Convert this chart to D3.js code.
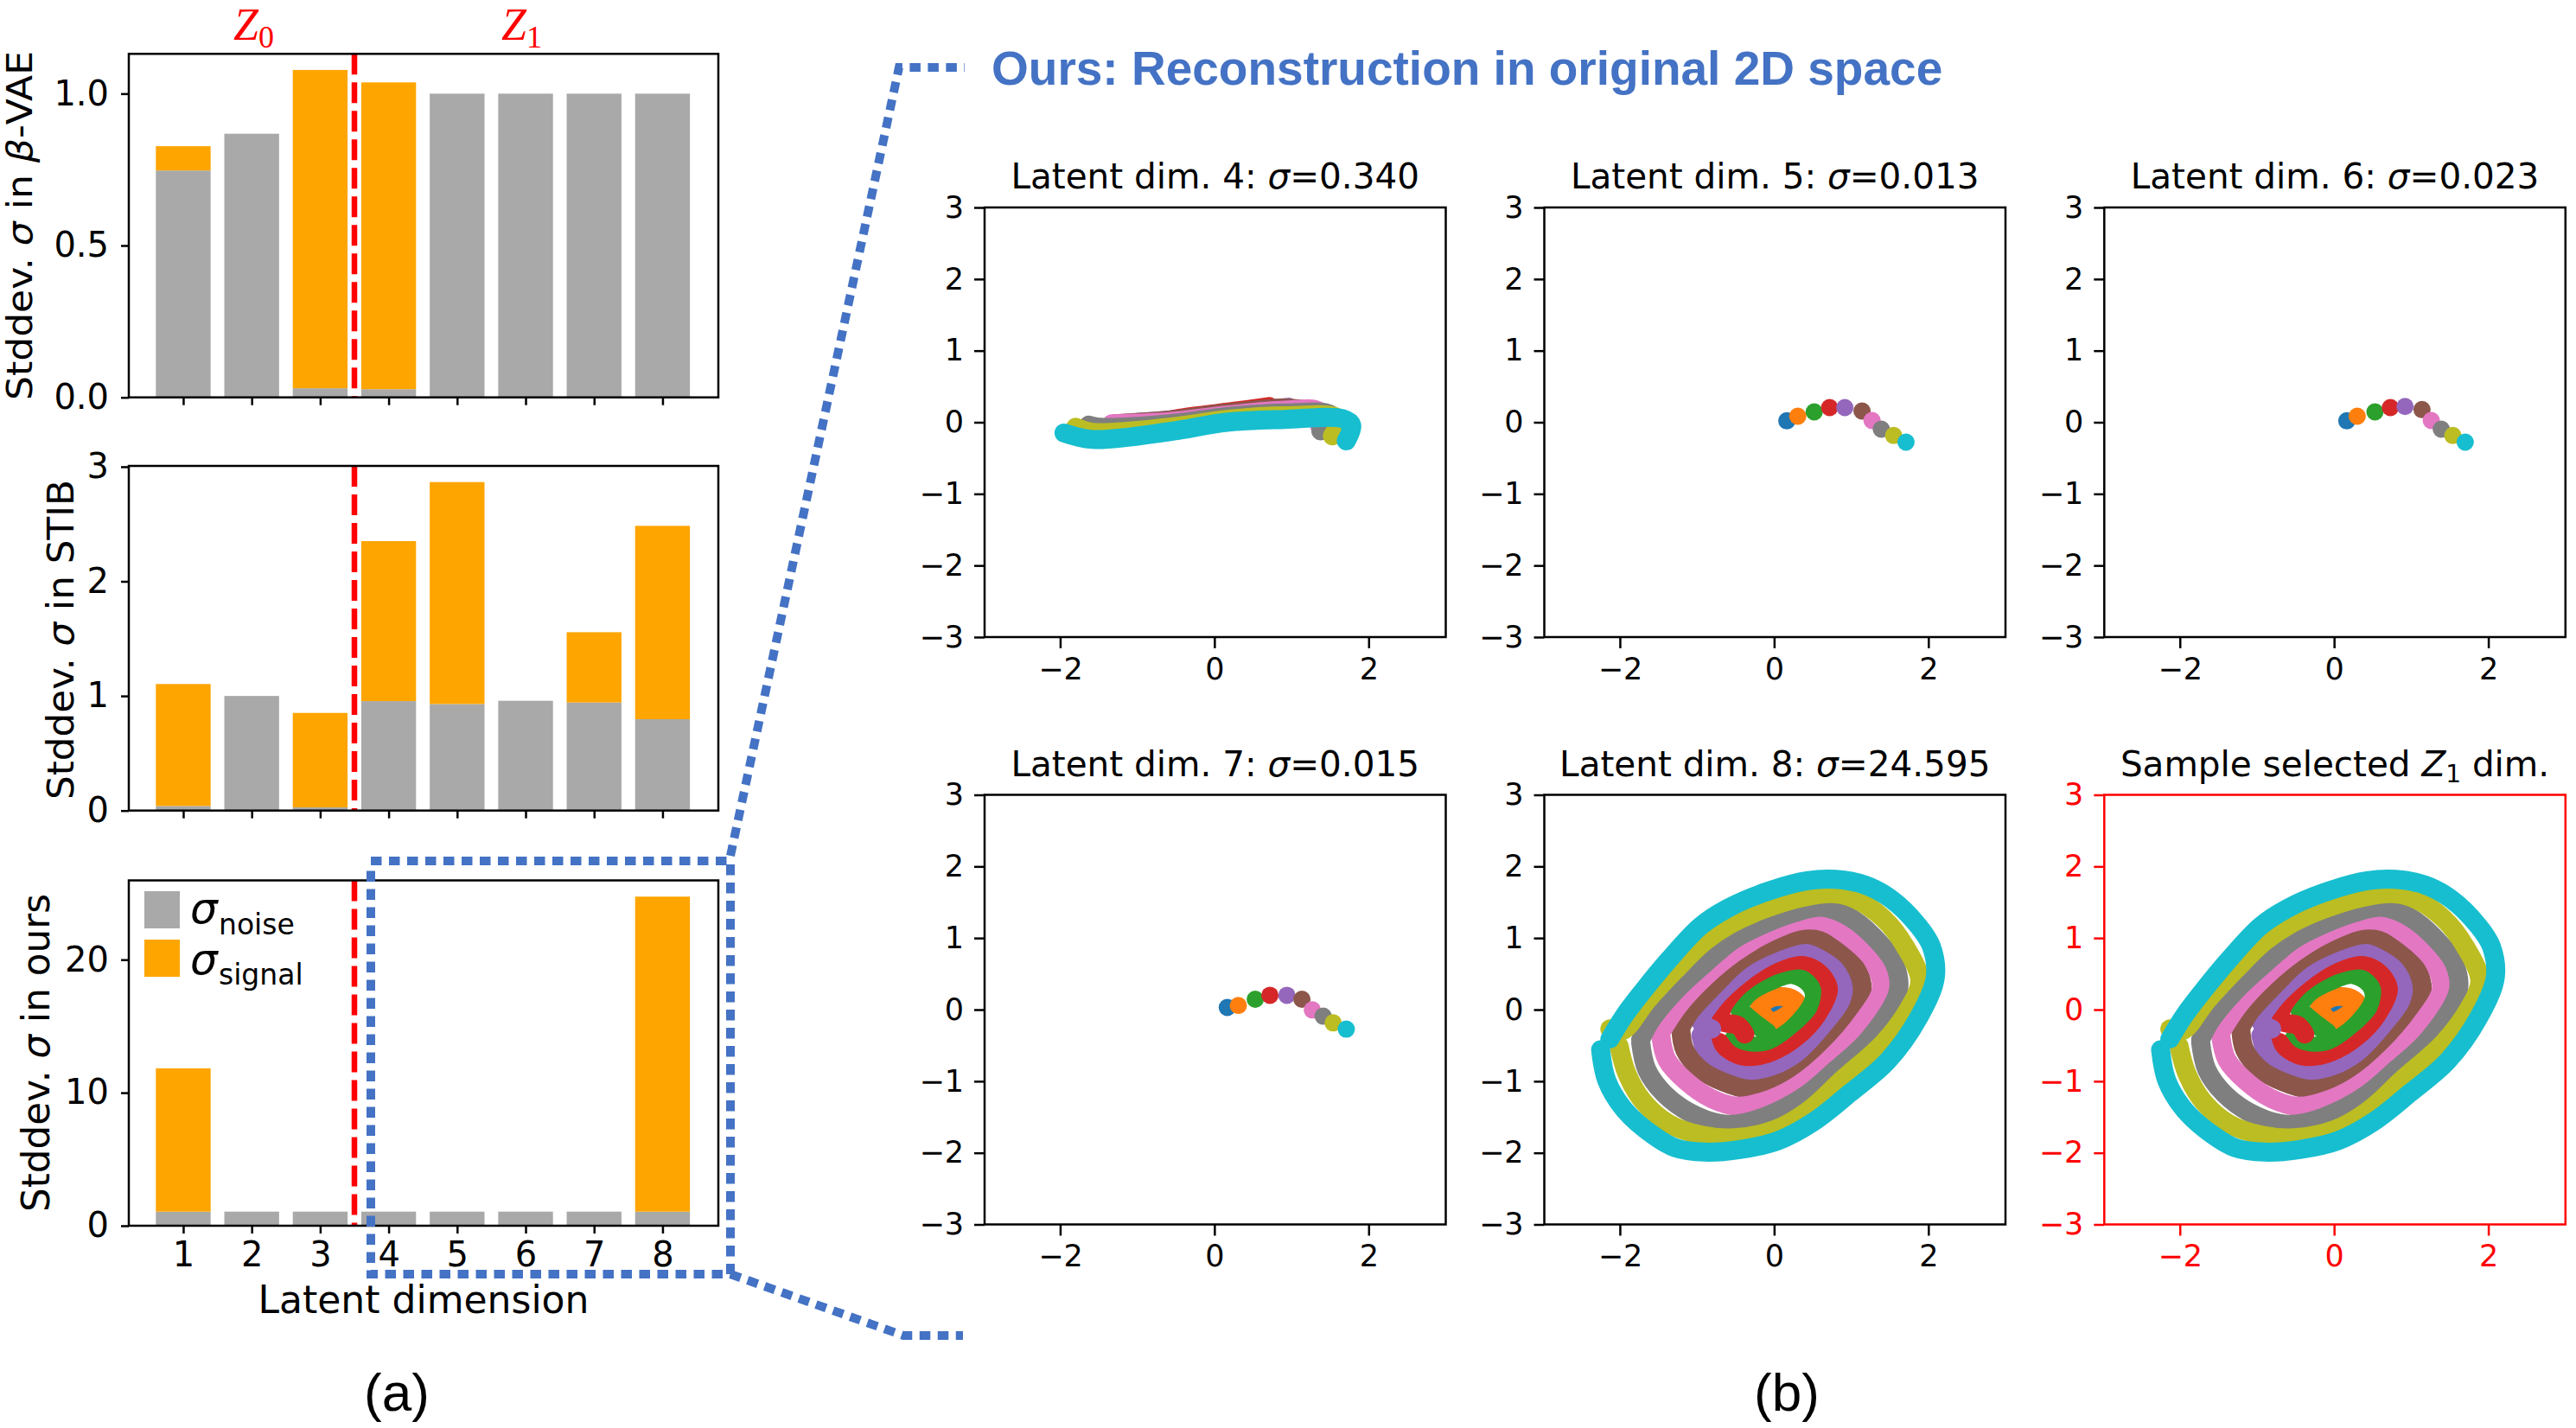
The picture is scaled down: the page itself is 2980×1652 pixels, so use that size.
<!DOCTYPE html>
<html>
<head>
<meta charset="utf-8">
<script src="https://cdn.jsdelivr.net/npm/d3@7"></script>
<style>
  body { margin: 0; background: #fff; }
  text { font-family: "DejaVu Sans", sans-serif; fill: #000; }
</style>
</head>
<body>
<svg id="chart" width="2980" height="1652"></svg>
<script>
// values
const latentDims = [1, 2, 3, 4, 5, 6, 7, 8];

const betaNoise = [0.747, 0.868, 0.03, 0.027, 1, 1, 1, 1];
const betaSignal = [0.08, 0, 1.048, 1.01, 0, 0, 0, 0];
const stibNoise = [0.04, 1.0, 0.028, 0.955, 0.93, 0.958, 0.943, 0.797];
const stibSignal = [1.064, 0, 0.824, 1.396, 1.936, 0, 0.613, 1.687];
const oursNoise = [1.06, 1.06, 1.06, 1.06, 1.06, 1.06, 1.06, 1.06];
const oursSignal = [10.77, 0, 0, 0, 0, 0, 0, 23.68];

const traceColors = ["#1f77b4", "#ff7f0e", "#2ca02c", "#d62728", "#9467bd",
                     "#8c564b", "#e377c2", "#7f7f7f", "#bcbd22", "#17becf"];

// dims 5, 6, 7 collapse to one dot per trace
const dim5Dots = [[0.165, 0.02], [0.307, 0.085], [0.52, 0.145], [0.72, 0.205], [0.917, 0.205],
                  [1.14, 0.157], [1.27, 0.024], [1.39, -0.097], [1.55, -0.185], [1.71, -0.278]];
const dim6Dots = [[0.165, 0.02], [0.30, 0.085], [0.53, 0.145], [0.73, 0.205], [0.92, 0.22],
                  [1.14, 0.177], [1.26, 0.024], [1.39, -0.097], [1.54, -0.185], [1.70, -0.278]];
const dim7Dots = [[0.167, 0.03], [0.31, 0.057], [0.53, 0.145], [0.72, 0.20], [0.94, 0.20],
                  [1.135, 0.145], [1.27, -0.004], [1.41, -0.09], [1.54, -0.185], [1.71, -0.273]];

// dim 4, one curve per trace, drawn in colour order
const dim4Traces = [
  [[-0.63, 0], [-0.6, 0]],
  [[-0.73, 0], [-0.58, -0.01]],
  [[0.26, 0.12], [-0.28, 0.05], [-0.88, 0]],
  [[0.71, 0.22], [0.31, 0.16], [-0.48, 0.05], [-0.68, 0]],
  [[0.96, 0.21], [0.41, 0.15], [-0.48, 0.04], [-0.98, 0]],
  [[1.21, 0.17], [0.91, 0.20], [0.16, 0.13], [-0.58, 0.03], [-1.28, -0.02]],
  [[1.36, -0.04], [1.36, 0.15], [0.91, 0.17], [0.16, 0.10], [-0.58, 0.01], [-1.33, -0.02]],
  [[1.38, -0.12], [1.51, 0.10], [0.91, 0.13], [0.16, 0.08], [-0.58, -0.02], [-1.48, -0.07], [-1.63, -0.04]],
  [[1.53, -0.19], [1.61, 0.05], [0.91, 0.09], [0.16, 0.04], [-0.58, -0.07], [-1.58, -0.14], [-1.80, -0.07]],
  [[1.71, -0.26], [1.78, -0.04], [1.66, 0.05], [0.91, 0.04], [0.16, 0], [-0.58, -0.13], [-1.58, -0.24], [-1.95, -0.15]]
];

// dim 8, the rings
const dim8Traces = [
  [[0.0, 0.0], [0.1, 0.04], [0.17, -0.27]],
  [[-0.07, -0.20], [0.15, -0.09], [0.30, 0.08], [0.18, 0.17], [-0.05, 0.16], [-0.19, 0.02], [-0.12, -0.10]],
  [[-0.52, -0.41], [-0.24, -0.51], [0.05, -0.41], [0.33, -0.17], [0.52, 0.16], [0.47, 0.35], [0.24, 0.49],
   [-0.05, 0.40], [-0.33, 0.23], [-0.45, 0.02], [-0.33, -0.12], [-0.09, -0.32]],
  [[-0.71, -0.46], [-0.57, -0.63], [-0.28, -0.72], [0, -0.68], [0.38, -0.41], [0.66, -0.08], [0.73, 0.31],
   [0.61, 0.55], [0.38, 0.69], [0.05, 0.64], [-0.28, 0.47], [-0.52, 0.26], [-0.69, -0.03], [-0.66, -0.17],
   [-0.47, -0.22], [-0.38, -0.34]],
  [[-0.95, -0.36], [-0.85, -0.65], [-0.57, -0.87], [-0.28, -0.92], [0.05, -0.84], [0.43, -0.60], [0.76, -0.22],
   [0.95, 0.26], [0.87, 0.55], [0.61, 0.81], [0.33, 0.88], [-0.05, 0.76], [-0.43, 0.50], [-0.80, 0.12],
   [-0.95, -0.17], [-0.81, -0.27]],
  [[-1.21, -0.27], [-1.16, -0.56], [-0.95, -0.84], [-0.66, -1.01], [-0.33, -1.11], [0.05, -1.04], [0.43, -0.82],
   [0.80, -0.41], [1.09, 0.02], [1.14, 0.35], [0.99, 0.71], [0.76, 0.91], [0.43, 1.05], [0, 0.93], [-0.43, 0.69],
   [-0.80, 0.31], [-1.09, -0.03], [-1.21, -0.25]],
  [[-1.47, -0.36], [-1.39, -0.70], [-1.13, -1.01], [-0.80, -1.25], [-0.47, -1.35], [-0.05, -1.25], [0.33, -1.04],
   [0.76, -0.65], [1.18, -0.12], [1.39, 0.28], [1.28, 0.69], [0.99, 1.00], [0.66, 1.22], [0.33, 1.24], [-0.09, 1.07],
   [-0.52, 0.79], [-0.90, 0.45], [-1.23, 0.07], [-1.47, -0.32]],
  [[-1.73, -0.46], [-1.65, -0.84], [-1.42, -1.18], [-1.09, -1.44], [-0.71, -1.59], [-0.43, -1.59], [0, -1.44],
   [0.43, -1.18], [0.80, -0.84], [1.23, -0.41], [1.61, 0.26], [1.56, 0.64], [1.28, 1.03], [0.95, 1.31], [0.61, 1.43],
   [0.28, 1.36], [-0.14, 1.19], [-0.52, 0.98], [-0.90, 0.64], [-1.28, 0.26], [-1.61, -0.17], [-1.73, -0.42]],
  [[-2.01, -0.51], [-1.91, -0.89], [-1.70, -1.28], [-1.37, -1.59], [-0.95, -1.75], [-0.52, -1.79], [0, -1.68],
   [0.43, -1.42], [0.90, -0.96], [1.42, -0.46], [1.75, 0.02], [1.89, 0.40], [1.70, 0.88], [1.42, 1.27], [1.04, 1.55],
   [0.76, 1.62], [0.38, 1.57], [-0.14, 1.40], [-0.57, 1.19], [-0.90, 0.95], [-1.28, 0.55], [-1.65, 0.12], [-1.96, -0.29],
   [-2.13, -0.27]],
  [[-2.25, -0.56], [-2.17, -0.99], [-1.94, -1.40], [-1.56, -1.76], [-1.28, -1.93], [-0.90, -1.99], [-0.43, -1.95],
   [0.05, -1.83], [0.52, -1.56], [0.99, -1.16], [1.47, -0.72], [1.87, -0.12], [2.09, 0.45], [2.04, 0.88], [1.87, 1.17],
   [1.51, 1.55], [1.18, 1.74], [0.80, 1.82], [0.43, 1.80], [-0.14, 1.63], [-0.61, 1.41], [-0.95, 1.17], [-1.37, 0.69],
   [-1.70, 0.26], [-1.94, -0.08], [-2.13, -0.41]]
];

const svg = d3.select("#chart");
const noiseColor = "#a9a9a9";
const signalColor = "#ffa500";
const blue = "#4472c4";

// left column
function drawBars({ top, bottom, yMax, yTicks, yFormat, noise, signal, label, labelX, labelY, labelLen, labelSize, showX }) {
  const x = d3.scaleLinear().domain([0.205, 8.815]).range([149, 831]);
  const y = d3.scaleLinear().domain([0, yMax]).range([bottom, top]);
  const g = svg.append("g");
  const barW = x(1.8) - x(1);

  g.selectAll(".noise").data(latentDims).enter().append("rect")
    .attr("x", d => x(d) - barW / 2)
    .attr("width", barW)
    .attr("y", (d, i) => y(noise[i]))
    .attr("height", (d, i) => bottom - y(noise[i]))
    .attr("fill", noiseColor);

  g.selectAll(".signal").data(latentDims).enter().append("rect")
    .attr("x", d => x(d) - barW / 2)
    .attr("width", barW)
    .attr("y", (d, i) => y(noise[i] + signal[i]))
    .attr("height", (d, i) => y(noise[i]) - y(noise[i] + signal[i]))
    .attr("fill", signalColor);

  g.append("line")
    .attr("x1", x(3.5)).attr("x2", x(3.5))
    .attr("y1", top).attr("y2", bottom)
    .attr("stroke", "#ff0000")
    .attr("stroke-width", 6.5)
    .attr("stroke-dasharray", "24 9");

  const yAxis = d3.axisLeft(y).tickValues(yTicks).tickFormat(d3.format(yFormat)).tickSize(9).tickPadding(14);
  const xAxis = d3.axisBottom(x).tickValues(latentDims).tickSize(9).tickPadding(10);
  if (!showX) xAxis.tickFormat("");

  [g.append("g").attr("transform", "translate(149,0)").call(yAxis),
   g.append("g").attr("transform", `translate(0,${bottom})`).call(xAxis)].forEach(a => {
    a.select(".domain").remove();
    a.selectAll("line").attr("stroke-width", 2.5);
    a.selectAll("text").style("font-size", "40px").style("font-family", '"DejaVu Sans"');
  });

  g.append("rect")
    .attr("x", 149).attr("y", top)
    .attr("width", 682).attr("height", bottom - top)
    .attr("fill", "none").attr("stroke", "#000").attr("stroke-width", 2.5);

  const t = g.append("text")
    .attr("transform", `translate(${labelX},${labelY}) rotate(-90)`)
    .attr("text-anchor", "middle")
    .attr("textLength", labelLen)
    .attr("lengthAdjust", "spacingAndGlyphs")
    .style("font-size", labelSize + "px");
  t.append("tspan").text("Stddev. ");
  t.append("tspan").style("font-style", "italic").text("σ");
  t.append("tspan").text(" in ");
  label(t);
}

drawBars({
  top: 62.3, bottom: 459.7, yMax: 1.131, yTicks: [0, 0.5, 1], yFormat: ".1f",
  noise: betaNoise, signal: betaSignal,
  label: t => {
    t.append("tspan").style("font-style", "italic").text("β");
    t.append("tspan").text("-VAE");
  },
  labelX: 37, labelY: 261, labelLen: 404, labelSize: 40
});
drawBars({
  top: 539, bottom: 937.7, yMax: 3.007, yTicks: [0, 1, 2, 3], yFormat: "d",
  noise: stibNoise, signal: stibSignal,
  label: t => t.append("tspan").text("STIB"),
  labelX: 85, labelY: 740, labelLen: 370, labelSize: 42
});
drawBars({
  top: 1018.5, bottom: 1418, yMax: 25.96, yTicks: [0, 10, 20], yFormat: "d",
  noise: oursNoise, signal: oursSignal,
  label: t => t.append("tspan").text("ours"),
  labelX: 57, labelY: 1218, labelLen: 368, labelSize: 44, showX: true
});

// legend of the bottom bar panel
svg.append("rect").attr("x", 167).attr("y", 1031).attr("width", 41).attr("height", 43).attr("fill", noiseColor);
svg.append("rect").attr("x", 167).attr("y", 1087).attr("width", 41).attr("height", 43).attr("fill", signalColor);
[["noise", 1068, 1081], ["signal", 1127, 1139]].forEach(([sub, y0, y1]) => {
  svg.append("text").attr("x", 220).attr("y", y0).style("font-size", "50px").style("font-style", "italic").text("σ");
  svg.append("text").attr("x", 253).attr("y", y1).style("font-size", "33px").text(sub);
});

svg.append("text").attr("x", 490).attr("y", 1519).attr("text-anchor", "middle")
  .style("font-size", "44px").text("Latent dimension");

// Z0 / Z1 over the top panel
[["0", 270], ["1", 580]].forEach(([sub, x0]) => {
  const t = svg.append("text").attr("x", x0).attr("y", 46)
    .style("font-family", '"Liberation Serif"').style("fill", "#ff0000");
  t.append("tspan").style("font-size", "52px").style("font-style", "italic").text("Z");
  t.append("tspan").attr("dy", 9).style("font-size", "36px").text(sub);
});

// right grid
function drawScatter({ left, top, title, dots, traces, color }) {
  const w = 533.5, h = 497;
  const x = d3.scaleLinear().domain([-2.98, 3.0]).range([left, left + w]);
  const y = d3.scaleLinear().domain([-3, 3]).range([top + h, top]);
  const g = svg.append("g");
  const line = d3.line().x(d => x(d[0])).y(d => y(d[1])).curve(d3.curveCatmullRom);
  const ink = color || "#000";

  if (traces) {
    g.selectAll("path.trace").data(traces).enter().append("path")
      .attr("class", "trace")
      .attr("d", line)
      .attr("fill", "none")
      .attr("stroke", (d, i) => traceColors[i])
      .attr("stroke-width", 22)
      .attr("stroke-linecap", "round")
      .attr("stroke-linejoin", "round");
  }
  if (dots) {
    g.selectAll("circle").data(dots).enter().append("circle")
      .attr("cx", d => x(d[0]))
      .attr("cy", d => y(d[1]))
      .attr("r", 10)
      .attr("fill", (d, i) => traceColors[i]);
  }

  const yAxis = d3.axisLeft(y).tickValues([-3, -2, -1, 0, 1, 2, 3]).tickFormat(d3.format("d")).tickSize(12).tickPadding(12);
  const xAxis = d3.axisBottom(x).tickValues([-2, 0, 2]).tickFormat(d3.format("d")).tickSize(13).tickPadding(11);
  [g.append("g").attr("transform", `translate(${left},0)`).call(yAxis),
   g.append("g").attr("transform", `translate(0,${top + h})`).call(xAxis)].forEach(a => {
    a.select(".domain").remove();
    a.selectAll("line").attr("stroke", ink).attr("stroke-width", 2.5);
    a.selectAll("text").style("font-size", "35px").style("font-family", '"DejaVu Sans"').style("fill", ink);
  });

  g.append("rect")
    .attr("x", left).attr("y", top).attr("width", w).attr("height", h)
    .attr("fill", "none").attr("stroke", ink).attr("stroke-width", 2.5);

  const t = g.append("text")
    .attr("x", left + w / 2).attr("y", top - 22)
    .attr("text-anchor", "middle")
    .style("font-size", "40.5px");
  title(t);
}

const dimTitle = (n, s) => t => {
  t.append("tspan").text(`Latent dim. ${n}: `);
  t.append("tspan").style("font-style", "italic").text("σ");
  t.append("tspan").text(`=${s}`);
};

const col = [1139, 1786.5, 2434.3];
const row = [240, 919.5];

drawScatter({ left: col[0], top: row[0], title: dimTitle(4, "0.340"), traces: dim4Traces });
drawScatter({ left: col[1], top: row[0], title: dimTitle(5, "0.013"), dots: dim5Dots });
drawScatter({ left: col[2], top: row[0], title: dimTitle(6, "0.023"), dots: dim6Dots });
drawScatter({ left: col[0], top: row[1], title: dimTitle(7, "0.015"), dots: dim7Dots });
drawScatter({ left: col[1], top: row[1], title: dimTitle(8, "24.595"), traces: dim8Traces });
drawScatter({
  left: col[2], top: row[1], traces: dim8Traces, color: "#ff0000",
  title: t => {
    t.append("tspan").text("Sample selected ");
    t.append("tspan").style("font-style", "italic").text("Z");
    t.append("tspan").attr("dy", 7).style("font-size", "28px").text("1");
    t.append("tspan").attr("dy", -7).text(" dim.");
  }
});

// zoom callout
const callout = [
  [[429, 996], [845, 996], [845, 1474], [432, 1474], [429, 1474], [429, 1000]],
  [[845, 990], [1040, 78], [1116, 78]],
  [[845, 1474], [1045, 1545], [1114, 1545]]
];
svg.selectAll("path.callout").data(callout).enter().append("path")
  .attr("class", "callout")
  .attr("d", d3.line())
  .attr("fill", "none")
  .attr("stroke", blue)
  .attr("stroke-width", 10)
  .attr("stroke-dasharray", "12.5 8.5");

svg.append("text").attr("x", 1147).attr("y", 97.7)
  .style("font-family", '"Liberation Sans"').style("font-weight", "bold")
  .style("font-size", "55px").style("fill", blue)
  .text("Ours: Reconstruction in original 2D space");

[["(a)", 459], ["(b)", 2067]].forEach(([s, x0]) => {
  svg.append("text").attr("x", x0).attr("y", 1632).attr("text-anchor", "middle")
    .style("font-family", '"Liberation Sans"').style("font-size", "62px").text(s);
});
</script>
</body>
</html>
